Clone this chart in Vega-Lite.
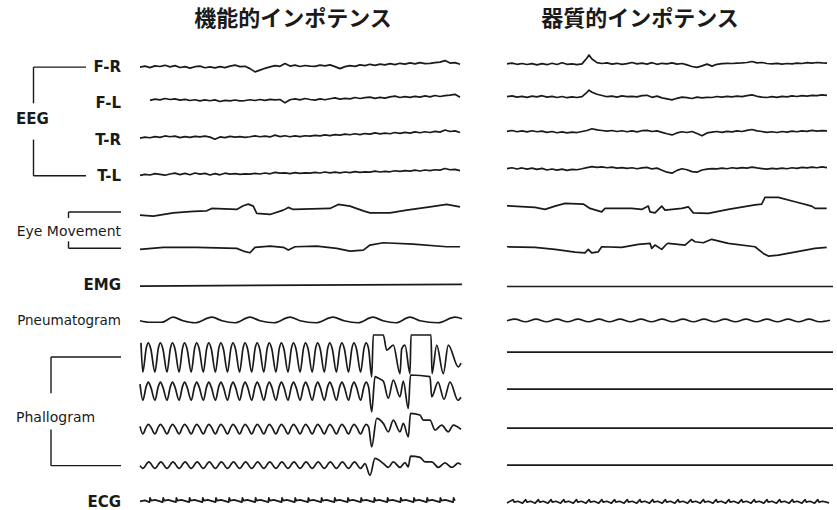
{
"$schema":"https://vega.github.io/schema/vega-lite/v6.json",
"background":"white",
"padding":{"left":0,"top":8,"right":0,"bottom":0},
"bounds":"flush",
"spacing":45,
"config":{"view":{"stroke":null},"title":{"font":"Noto Sans CJK JP","fontSize":22,"fontWeight":"bold","color":"#1a1a1a","offset":18}},
"datasets":{
"labels":[
{"text":"F-R","channel":"F-R","anchor":"label"},
{"text":"F-L","channel":"F-L","anchor":"label"},
{"text":"T-R","channel":"T-R","anchor":"label"},
{"text":"T-L","channel":"T-L","anchor":"label"},
{"text":"Eye Movement","channel":"Eye1","anchor":"label"},
{"text":"EMG","channel":"EMG","anchor":"label"},
{"text":"Pneumatogram","channel":"Pneumatogram","anchor":"label"},
{"text":"ECG","channel":"ECG","anchor":"label"},
{"text":"EEG","channel":"F-L","anchor":"group"},
{"text":"Phallogram","channel":"Ph2","anchor":"group"}
],
"brackets":[
{"group":"EEG","part":"line","from":"eegBar","to":"eegBar","top":"F-R","bottom":"F-L"},
{"group":"EEG","part":"line","from":"eegBar","to":"eegBar","top":"T-R","bottom":"T-L"},
{"group":"EEG","part":"line","from":"eegBar","to":"eegEnd","top":"F-R","bottom":"F-R"},
{"group":"EEG","part":"line","from":"eegBar","to":"eegEnd","top":"T-L","bottom":"T-L"},
{"group":"Eye Movement","part":"line","from":"eyeBar","to":"label","top":"Eye1","bottom":"Eye1"},
{"group":"Eye Movement","part":"line","from":"eyeBar","to":"label","top":"Eye2","bottom":"Eye2"},
{"group":"Eye Movement","part":"tickDown","from":"eyeBar","to":"eyeBar","top":"Eye1","bottom":"Eye1"},
{"group":"Eye Movement","part":"tickUp","from":"eyeBar","to":"eyeBar","top":"Eye2","bottom":"Eye2"},
{"group":"Phallogram","part":"line","from":"phBar","to":"phBar","top":"Ph1","bottom":"Ph2"},
{"group":"Phallogram","part":"line","from":"phBar","to":"phBar","top":"Ph3","bottom":"Ph4"},
{"group":"Phallogram","part":"line","from":"phBar","to":"label","top":"Ph1","bottom":"Ph1"},
{"group":"Phallogram","part":"line","from":"phBar","to":"label","top":"Ph4","bottom":"Ph4"}
],
"functional":[
{"c":"F-R","t":0,"v":0},{"c":"F-R","t":0.5,"v":1},{"c":"F-R","t":1,"v":-0.5},{"c":"F-R","t":1.5,"v":1.2},{"c":"F-R","t":2,"v":0.6},{"c":"F-R","t":2.5,"v":1.8},{"c":"F-R","t":3,"v":0.3},{"c":"F-R","t":3.5,"v":1.5},{"c":"F-R","t":4,"v":-0.4},{"c":"F-R","t":4.5,"v":0.5},{"c":"F-R","t":5,"v":-1},{"c":"F-R","t":5.5,"v":0.4},{"c":"F-R","t":6,"v":1},{"c":"F-R","t":6.5,"v":-0.6},{"c":"F-R","t":7,"v":0.3},{"c":"F-R","t":7.5,"v":-0.8},{"c":"F-R","t":8,"v":0.5},{"c":"F-R","t":8.5,"v":-0.5},{"c":"F-R","t":9,"v":1},{"c":"F-R","t":9.5,"v":2},{"c":"F-R","t":10,"v":0.5},{"c":"F-R","t":10.5,"v":0.8},{"c":"F-R","t":11,"v":-1.5},{"c":"F-R","t":11.5,"v":-4.7},{"c":"F-R","t":12,"v":-3},{"c":"F-R","t":12.5,"v":-1.2},{"c":"F-R","t":13,"v":0.3},{"c":"F-R","t":13.5,"v":1.5},{"c":"F-R","t":14,"v":0.8},{"c":"F-R","t":14.5,"v":3.5},{"c":"F-R","t":15,"v":1},{"c":"F-R","t":15.5,"v":2},{"c":"F-R","t":16,"v":0.6},{"c":"F-R","t":16.5,"v":1.6},{"c":"F-R","t":17,"v":1},{"c":"F-R","t":17.5,"v":0.8},{"c":"F-R","t":18,"v":2},{"c":"F-R","t":18.5,"v":1.2},{"c":"F-R","t":19,"v":2.2},{"c":"F-R","t":19.5,"v":0.5},{"c":"F-R","t":20,"v":-1.5},{"c":"F-R","t":20.5,"v":0.5},{"c":"F-R","t":21,"v":1.5},{"c":"F-R","t":21.5,"v":0.8},{"c":"F-R","t":22,"v":2.2},{"c":"F-R","t":22.5,"v":1.5},{"c":"F-R","t":23,"v":2.8},{"c":"F-R","t":23.5,"v":1.8},{"c":"F-R","t":24,"v":3},{"c":"F-R","t":24.5,"v":2.2},{"c":"F-R","t":25,"v":3.5},{"c":"F-R","t":25.5,"v":2.5},{"c":"F-R","t":26,"v":3.8},{"c":"F-R","t":26.5,"v":3},{"c":"F-R","t":27,"v":4.2},{"c":"F-R","t":27.5,"v":3.2},{"c":"F-R","t":28,"v":4.5},{"c":"F-R","t":28.5,"v":3.5},{"c":"F-R","t":29,"v":3.8},{"c":"F-R","t":29.5,"v":4.5},{"c":"F-R","t":30,"v":5},{"c":"F-R","t":30.5,"v":6.5},{"c":"F-R","t":31,"v":4},{"c":"F-R","t":31.5,"v":4.5},{"c":"F-R","t":32,"v":2.8},
{"c":"F-L","t":1,"v":3},{"c":"F-L","t":1.5,"v":4.2},{"c":"F-L","t":2,"v":3.5},{"c":"F-L","t":2.5,"v":4.8},{"c":"F-L","t":3,"v":3.8},{"c":"F-L","t":3.5,"v":4.5},{"c":"F-L","t":4,"v":3.2},{"c":"F-L","t":4.5,"v":4},{"c":"F-L","t":5,"v":2.8},{"c":"F-L","t":5.5,"v":3.6},{"c":"F-L","t":6,"v":2.5},{"c":"F-L","t":6.5,"v":3.4},{"c":"F-L","t":7,"v":2.6},{"c":"F-L","t":7.5,"v":3.5},{"c":"F-L","t":8,"v":1.8},{"c":"F-L","t":8.5,"v":3},{"c":"F-L","t":9,"v":2.4},{"c":"F-L","t":9.5,"v":3.3},{"c":"F-L","t":10,"v":2.5},{"c":"F-L","t":10.5,"v":2.8},{"c":"F-L","t":11,"v":3.6},{"c":"F-L","t":11.5,"v":2.8},{"c":"F-L","t":12,"v":3.8},{"c":"F-L","t":12.5,"v":3},{"c":"F-L","t":13,"v":4},{"c":"F-L","t":13.5,"v":3.4},{"c":"F-L","t":14,"v":3.8},{"c":"F-L","t":14.5,"v":0.5},{"c":"F-L","t":15,"v":3.6},{"c":"F-L","t":15.5,"v":4.4},{"c":"F-L","t":16,"v":3.5},{"c":"F-L","t":16.5,"v":4.8},{"c":"F-L","t":17,"v":3.8},{"c":"F-L","t":17.5,"v":3.2},{"c":"F-L","t":18,"v":4.4},{"c":"F-L","t":18.5,"v":3.6},{"c":"F-L","t":19,"v":4.6},{"c":"F-L","t":19.5,"v":5.5},{"c":"F-L","t":20,"v":4.2},{"c":"F-L","t":20.5,"v":5},{"c":"F-L","t":21,"v":4.4},{"c":"F-L","t":21.5,"v":5.8},{"c":"F-L","t":22,"v":4.8},{"c":"F-L","t":22.5,"v":5.6},{"c":"F-L","t":23,"v":6.2},{"c":"F-L","t":23.5,"v":5},{"c":"F-L","t":24,"v":6},{"c":"F-L","t":24.5,"v":5.2},{"c":"F-L","t":25,"v":6.4},{"c":"F-L","t":25.5,"v":7.2},{"c":"F-L","t":26,"v":5.8},{"c":"F-L","t":26.5,"v":6.6},{"c":"F-L","t":27,"v":6},{"c":"F-L","t":27.5,"v":7},{"c":"F-L","t":28,"v":6.2},{"c":"F-L","t":28.5,"v":7.4},{"c":"F-L","t":29,"v":6.4},{"c":"F-L","t":29.5,"v":7.8},{"c":"F-L","t":30,"v":6.8},{"c":"F-L","t":30.5,"v":7.6},{"c":"F-L","t":31,"v":8.2},{"c":"F-L","t":31.5,"v":9},{"c":"F-L","t":32,"v":6},
{"c":"T-R","t":0,"v":1.5},{"c":"T-R","t":0.5,"v":2.5},{"c":"T-R","t":1,"v":1.8},{"c":"T-R","t":1.5,"v":3},{"c":"T-R","t":2,"v":2.2},{"c":"T-R","t":2.5,"v":3.6},{"c":"T-R","t":3,"v":2.8},{"c":"T-R","t":3.5,"v":3.4},{"c":"T-R","t":4,"v":2},{"c":"T-R","t":4.5,"v":3},{"c":"T-R","t":5,"v":2.2},{"c":"T-R","t":5.5,"v":3.2},{"c":"T-R","t":6,"v":2.6},{"c":"T-R","t":6.5,"v":3.4},{"c":"T-R","t":7,"v":2.4},{"c":"T-R","t":7.5,"v":0.4},{"c":"T-R","t":8,"v":2.6},{"c":"T-R","t":8.5,"v":2},{"c":"T-R","t":9,"v":3.2},{"c":"T-R","t":9.5,"v":2.4},{"c":"T-R","t":10,"v":3},{"c":"T-R","t":10.5,"v":2.2},{"c":"T-R","t":11,"v":2.8},{"c":"T-R","t":11.5,"v":3.6},{"c":"T-R","t":12,"v":2.8},{"c":"T-R","t":12.5,"v":3.4},{"c":"T-R","t":13,"v":2.6},{"c":"T-R","t":13.5,"v":4.4},{"c":"T-R","t":14,"v":3},{"c":"T-R","t":14.5,"v":3.8},{"c":"T-R","t":15,"v":2.8},{"c":"T-R","t":15.5,"v":3.6},{"c":"T-R","t":16,"v":3},{"c":"T-R","t":16.5,"v":3.8},{"c":"T-R","t":17,"v":3.4},{"c":"T-R","t":17.5,"v":4.2},{"c":"T-R","t":18,"v":3.6},{"c":"T-R","t":18.5,"v":4.6},{"c":"T-R","t":19,"v":4},{"c":"T-R","t":19.5,"v":5},{"c":"T-R","t":20,"v":4.4},{"c":"T-R","t":20.5,"v":5.4},{"c":"T-R","t":21,"v":4.8},{"c":"T-R","t":21.5,"v":5.8},{"c":"T-R","t":22,"v":5},{"c":"T-R","t":22.5,"v":6},{"c":"T-R","t":23,"v":5.4},{"c":"T-R","t":23.5,"v":6.6},{"c":"T-R","t":24,"v":5.6},{"c":"T-R","t":24.5,"v":6.4},{"c":"T-R","t":25,"v":5.8},{"c":"T-R","t":25.5,"v":7},{"c":"T-R","t":26,"v":6.2},{"c":"T-R","t":26.5,"v":7.2},{"c":"T-R","t":27,"v":6.4},{"c":"T-R","t":27.5,"v":7.6},{"c":"T-R","t":28,"v":6.8},{"c":"T-R","t":28.5,"v":7.8},{"c":"T-R","t":29,"v":7},{"c":"T-R","t":29.5,"v":8.2},{"c":"T-R","t":30,"v":7.4},{"c":"T-R","t":30.5,"v":9.5},{"c":"T-R","t":31,"v":8},{"c":"T-R","t":31.5,"v":8.6},{"c":"T-R","t":32,"v":7},
{"c":"T-L","t":0,"v":0.5},{"c":"T-L","t":0.5,"v":1.5},{"c":"T-L","t":1,"v":0.8},{"c":"T-L","t":1.5,"v":2.2},{"c":"T-L","t":2,"v":1.4},{"c":"T-L","t":2.5,"v":0.6},{"c":"T-L","t":3,"v":1.8},{"c":"T-L","t":3.5,"v":2.6},{"c":"T-L","t":4,"v":1.2},{"c":"T-L","t":4.5,"v":2.4},{"c":"T-L","t":5,"v":1},{"c":"T-L","t":5.5,"v":2.8},{"c":"T-L","t":6,"v":1.6},{"c":"T-L","t":6.5,"v":2.4},{"c":"T-L","t":7,"v":0.8},{"c":"T-L","t":7.5,"v":2.2},{"c":"T-L","t":8,"v":1},{"c":"T-L","t":8.5,"v":2.6},{"c":"T-L","t":9,"v":1.6},{"c":"T-L","t":9.5,"v":2.2},{"c":"T-L","t":10,"v":1.4},{"c":"T-L","t":10.5,"v":2},{"c":"T-L","t":11,"v":1.6},{"c":"T-L","t":11.5,"v":2.4},{"c":"T-L","t":12,"v":1.8},{"c":"T-L","t":12.5,"v":2.8},{"c":"T-L","t":13,"v":2},{"c":"T-L","t":13.5,"v":3.4},{"c":"T-L","t":14,"v":2.6},{"c":"T-L","t":14.5,"v":3},{"c":"T-L","t":15,"v":2.2},{"c":"T-L","t":15.5,"v":3.2},{"c":"T-L","t":16,"v":2.4},{"c":"T-L","t":16.5,"v":3},{"c":"T-L","t":17,"v":2.6},{"c":"T-L","t":17.5,"v":3.4},{"c":"T-L","t":18,"v":2.8},{"c":"T-L","t":18.5,"v":3.8},{"c":"T-L","t":19,"v":3},{"c":"T-L","t":19.5,"v":3.6},{"c":"T-L","t":20,"v":3},{"c":"T-L","t":20.5,"v":3.8},{"c":"T-L","t":21,"v":3.2},{"c":"T-L","t":21.5,"v":4.2},{"c":"T-L","t":22,"v":3.4},{"c":"T-L","t":22.5,"v":4},{"c":"T-L","t":23,"v":3.6},{"c":"T-L","t":23.5,"v":4.6},{"c":"T-L","t":24,"v":3.8},{"c":"T-L","t":24.5,"v":4.4},{"c":"T-L","t":25,"v":4},{"c":"T-L","t":25.5,"v":5},{"c":"T-L","t":26,"v":4.4},{"c":"T-L","t":26.5,"v":5.2},{"c":"T-L","t":27,"v":4.6},{"c":"T-L","t":27.5,"v":5.6},{"c":"T-L","t":28,"v":4.8},{"c":"T-L","t":28.5,"v":5.8},{"c":"T-L","t":29,"v":5.2},{"c":"T-L","t":29.5,"v":6},{"c":"T-L","t":30,"v":5.6},{"c":"T-L","t":30.5,"v":7.3},{"c":"T-L","t":31,"v":6},{"c":"T-L","t":31.5,"v":6.4},{"c":"T-L","t":32,"v":5.2},
{"c":"Eye1","t":0,"v":-3.1},{"c":"Eye1","t":1.33,"v":-4.1},{"c":"Eye1","t":3.33,"v":-0.8},{"c":"Eye1","t":5.33,"v":0.6},{"c":"Eye1","t":6.67,"v":1.2},{"c":"Eye1","t":7.17,"v":3.6},{"c":"Eye1","t":9.67,"v":2.6},{"c":"Eye1","t":10.33,"v":6.2},{"c":"Eye1","t":10.83,"v":7.9},{"c":"Eye1","t":11.33,"v":5.9},{"c":"Eye1","t":11.67,"v":-1.4},{"c":"Eye1","t":13,"v":-2.4},{"c":"Eye1","t":14.33,"v":1.9},{"c":"Eye1","t":14.83,"v":4.6},{"c":"Eye1","t":15.33,"v":2.6},{"c":"Eye1","t":19,"v":3.6},{"c":"Eye1","t":19.83,"v":7.6},{"c":"Eye1","t":21,"v":5.9},{"c":"Eye1","t":22.33,"v":1.2},{"c":"Eye1","t":23,"v":-0.8},{"c":"Eye1","t":25,"v":-0.8},{"c":"Eye1","t":26.67,"v":1.9},{"c":"Eye1","t":29,"v":5.2},{"c":"Eye1","t":30.67,"v":7.6},{"c":"Eye1","t":32,"v":5.2},
{"c":"Eye2","t":0,"v":-1.1},{"c":"Eye2","t":2.33,"v":0.9},{"c":"Eye2","t":5.67,"v":0.9},{"c":"Eye2","t":9.67,"v":-0.1},{"c":"Eye2","t":10.33,"v":-2.8},{"c":"Eye2","t":11,"v":-4.5},{"c":"Eye2","t":11.5,"v":0.9},{"c":"Eye2","t":13,"v":2.2},{"c":"Eye2","t":14.33,"v":0.9},{"c":"Eye2","t":14.83,"v":-1.8},{"c":"Eye2","t":15.5,"v":1.5},{"c":"Eye2","t":17.67,"v":2.2},{"c":"Eye2","t":19.67,"v":-0.1},{"c":"Eye2","t":21,"v":-2.8},{"c":"Eye2","t":22.33,"v":-1.8},{"c":"Eye2","t":23,"v":3.2},{"c":"Eye2","t":24.33,"v":5.5},{"c":"Eye2","t":27.33,"v":4.2},{"c":"Eye2","t":30.67,"v":1.5},{"c":"Eye2","t":32,"v":1.5},
{"c":"EMG","t":0,"v":-1.6},{"c":"EMG","t":32.2,"v":0.2},
{"c":"Pneumatogram","t":0,"v":0},{"c":"Pneumatogram","t":1,"v":-1.5},{"c":"Pneumatogram","t":2.2,"v":-1.5},{"c":"Pneumatogram","t":3.3,"v":3.5},{"c":"Pneumatogram","t":4.3,"v":0},{"c":"Pneumatogram","t":5.5,"v":-2},{"c":"Pneumatogram","t":7.2,"v":3.5},{"c":"Pneumatogram","t":8.2,"v":0},{"c":"Pneumatogram","t":9.5,"v":-2},{"c":"Pneumatogram","t":11,"v":3.5},{"c":"Pneumatogram","t":12,"v":0},{"c":"Pneumatogram","t":13.4,"v":-2},{"c":"Pneumatogram","t":15,"v":3.5},{"c":"Pneumatogram","t":16,"v":0},{"c":"Pneumatogram","t":17.6,"v":-2},{"c":"Pneumatogram","t":19.3,"v":3.5},{"c":"Pneumatogram","t":20.4,"v":0},{"c":"Pneumatogram","t":21.8,"v":-2},{"c":"Pneumatogram","t":23.3,"v":3.5},{"c":"Pneumatogram","t":24.3,"v":0},{"c":"Pneumatogram","t":25.6,"v":-2},{"c":"Pneumatogram","t":27,"v":3.5},{"c":"Pneumatogram","t":28,"v":0},{"c":"Pneumatogram","t":29.8,"v":-2},{"c":"Pneumatogram","t":31.5,"v":3.5},{"c":"Pneumatogram","t":32.2,"v":2},
{"c":"Ph1","t":0.1,"v":14},{"c":"Ph1","t":0.28,"v":-15},{"c":"Ph1","t":0.63,"v":9},{"c":"Ph1","t":0.83,"v":14},{"c":"Ph1","t":1.08,"v":8},{"c":"Ph1","t":1.49,"v":-15},{"c":"Ph1","t":1.84,"v":9},{"c":"Ph1","t":2.04,"v":14},{"c":"Ph1","t":2.29,"v":8},{"c":"Ph1","t":2.7,"v":-15},{"c":"Ph1","t":3.05,"v":9},{"c":"Ph1","t":3.25,"v":14},{"c":"Ph1","t":3.5,"v":8},{"c":"Ph1","t":3.91,"v":-15},{"c":"Ph1","t":4.26,"v":9},{"c":"Ph1","t":4.46,"v":14},{"c":"Ph1","t":4.71,"v":8},{"c":"Ph1","t":5.12,"v":-15},{"c":"Ph1","t":5.47,"v":9},{"c":"Ph1","t":5.67,"v":14},{"c":"Ph1","t":5.92,"v":8},{"c":"Ph1","t":6.33,"v":-15},{"c":"Ph1","t":6.68,"v":9},{"c":"Ph1","t":6.88,"v":14},{"c":"Ph1","t":7.13,"v":8},{"c":"Ph1","t":7.54,"v":-15},{"c":"Ph1","t":7.89,"v":9},{"c":"Ph1","t":8.09,"v":14},{"c":"Ph1","t":8.34,"v":8},{"c":"Ph1","t":8.75,"v":-15},{"c":"Ph1","t":9.1,"v":9},{"c":"Ph1","t":9.3,"v":14},{"c":"Ph1","t":9.55,"v":8},{"c":"Ph1","t":9.96,"v":-15},{"c":"Ph1","t":10.31,"v":9},{"c":"Ph1","t":10.51,"v":14},{"c":"Ph1","t":10.76,"v":8},{"c":"Ph1","t":11.17,"v":-15},{"c":"Ph1","t":11.52,"v":9},{"c":"Ph1","t":11.72,"v":14},{"c":"Ph1","t":11.97,"v":8},{"c":"Ph1","t":12.38,"v":-15},{"c":"Ph1","t":12.73,"v":9},{"c":"Ph1","t":12.93,"v":14},{"c":"Ph1","t":13.18,"v":8},{"c":"Ph1","t":13.59,"v":-15},{"c":"Ph1","t":13.94,"v":9},{"c":"Ph1","t":14.14,"v":14},{"c":"Ph1","t":14.39,"v":8},{"c":"Ph1","t":14.8,"v":-15},{"c":"Ph1","t":15.15,"v":9},{"c":"Ph1","t":15.35,"v":14},{"c":"Ph1","t":15.6,"v":8},{"c":"Ph1","t":16.01,"v":-15},{"c":"Ph1","t":16.36,"v":9},{"c":"Ph1","t":16.56,"v":14},{"c":"Ph1","t":16.81,"v":8},{"c":"Ph1","t":17.22,"v":-15},{"c":"Ph1","t":17.57,"v":9},{"c":"Ph1","t":17.77,"v":14},{"c":"Ph1","t":18.02,"v":8},{"c":"Ph1","t":18.43,"v":-15},{"c":"Ph1","t":18.78,"v":9},{"c":"Ph1","t":18.98,"v":14},{"c":"Ph1","t":19.23,"v":8},{"c":"Ph1","t":19.64,"v":-15},{"c":"Ph1","t":19.99,"v":9},{"c":"Ph1","t":20.19,"v":14},{"c":"Ph1","t":20.44,"v":8},{"c":"Ph1","t":20.85,"v":-15},{"c":"Ph1","t":21.2,"v":9},{"c":"Ph1","t":21.4,"v":14},{"c":"Ph1","t":21.65,"v":8},{"c":"Ph1","t":22.06,"v":-15},{"c":"Ph1","t":22.41,"v":9},{"c":"Ph1","t":22.61,"v":14},{"c":"Ph1","t":22.86,"v":8},{"c":"Ph1","t":23.17,"v":-19.9},{"c":"Ph1","t":23.33,"v":21.8},{"c":"Ph1","t":24.33,"v":21.8},{"c":"Ph1","t":24.67,"v":6.8},{"c":"Ph1","t":25.33,"v":11.8},{"c":"Ph1","t":26,"v":-16.5},{"c":"Ph1","t":26.17,"v":8},{"c":"Ph1","t":26.5,"v":11.8},{"c":"Ph1","t":27,"v":-16.5},{"c":"Ph1","t":27.1,"v":21.8},{"c":"Ph1","t":29.1,"v":21.8},{"c":"Ph1","t":29.2,"v":-16.5},{"c":"Ph1","t":29.67,"v":11.8},{"c":"Ph1","t":30.33,"v":-16.5},{"c":"Ph1","t":30.83,"v":11.8},{"c":"Ph1","t":31.83,"v":-9.9},{"c":"Ph1","t":32.1,"v":-6},
{"c":"Ph2","t":0,"v":9},{"c":"Ph2","t":0.28,"v":-7},{"c":"Ph2","t":0.63,"v":7},{"c":"Ph2","t":0.83,"v":11},{"c":"Ph2","t":1.08,"v":6},{"c":"Ph2","t":1.49,"v":-7},{"c":"Ph2","t":1.84,"v":7},{"c":"Ph2","t":2.04,"v":11},{"c":"Ph2","t":2.29,"v":6},{"c":"Ph2","t":2.7,"v":-7},{"c":"Ph2","t":3.05,"v":7},{"c":"Ph2","t":3.25,"v":11},{"c":"Ph2","t":3.5,"v":6},{"c":"Ph2","t":3.91,"v":-7},{"c":"Ph2","t":4.26,"v":7},{"c":"Ph2","t":4.46,"v":11},{"c":"Ph2","t":4.71,"v":6},{"c":"Ph2","t":5.12,"v":-7},{"c":"Ph2","t":5.47,"v":7},{"c":"Ph2","t":5.67,"v":11},{"c":"Ph2","t":5.92,"v":6},{"c":"Ph2","t":6.33,"v":-7},{"c":"Ph2","t":6.68,"v":7},{"c":"Ph2","t":6.88,"v":11},{"c":"Ph2","t":7.13,"v":6},{"c":"Ph2","t":7.54,"v":-7},{"c":"Ph2","t":7.89,"v":7},{"c":"Ph2","t":8.09,"v":11},{"c":"Ph2","t":8.34,"v":6},{"c":"Ph2","t":8.75,"v":-7},{"c":"Ph2","t":9.1,"v":7},{"c":"Ph2","t":9.3,"v":11},{"c":"Ph2","t":9.55,"v":6},{"c":"Ph2","t":9.96,"v":-7},{"c":"Ph2","t":10.31,"v":7},{"c":"Ph2","t":10.51,"v":11},{"c":"Ph2","t":10.76,"v":6},{"c":"Ph2","t":11.17,"v":-7},{"c":"Ph2","t":11.52,"v":7},{"c":"Ph2","t":11.72,"v":11},{"c":"Ph2","t":11.97,"v":6},{"c":"Ph2","t":12.38,"v":-7},{"c":"Ph2","t":12.73,"v":7},{"c":"Ph2","t":12.93,"v":11},{"c":"Ph2","t":13.18,"v":6},{"c":"Ph2","t":13.59,"v":-7},{"c":"Ph2","t":13.94,"v":7},{"c":"Ph2","t":14.14,"v":11},{"c":"Ph2","t":14.39,"v":6},{"c":"Ph2","t":14.8,"v":-7},{"c":"Ph2","t":15.15,"v":7},{"c":"Ph2","t":15.35,"v":11},{"c":"Ph2","t":15.6,"v":6},{"c":"Ph2","t":16.01,"v":-7},{"c":"Ph2","t":16.36,"v":7},{"c":"Ph2","t":16.56,"v":11},{"c":"Ph2","t":16.81,"v":6},{"c":"Ph2","t":17.22,"v":-7},{"c":"Ph2","t":17.57,"v":7},{"c":"Ph2","t":17.77,"v":11},{"c":"Ph2","t":18.02,"v":6},{"c":"Ph2","t":18.43,"v":-7},{"c":"Ph2","t":18.78,"v":7},{"c":"Ph2","t":18.98,"v":11},{"c":"Ph2","t":19.23,"v":6},{"c":"Ph2","t":19.64,"v":-7},{"c":"Ph2","t":19.99,"v":7},{"c":"Ph2","t":20.19,"v":11},{"c":"Ph2","t":20.44,"v":6},{"c":"Ph2","t":20.85,"v":-7},{"c":"Ph2","t":21.2,"v":7},{"c":"Ph2","t":21.4,"v":11},{"c":"Ph2","t":21.65,"v":6},{"c":"Ph2","t":22.06,"v":-7},{"c":"Ph2","t":22.41,"v":7},{"c":"Ph2","t":22.61,"v":11},{"c":"Ph2","t":22.86,"v":6},{"c":"Ph2","t":23.17,"v":-18.6},{"c":"Ph2","t":23.5,"v":16.4},{"c":"Ph2","t":23.8,"v":15},{"c":"Ph2","t":24.33,"v":12},{"c":"Ph2","t":24.83,"v":-5},{"c":"Ph2","t":25.33,"v":13},{"c":"Ph2","t":26,"v":-3.6},{"c":"Ph2","t":26.33,"v":12},{"c":"Ph2","t":26.83,"v":-15.2},{"c":"Ph2","t":27.05,"v":18.1},{"c":"Ph2","t":29,"v":16.4},{"c":"Ph2","t":29.17,"v":-3.6},{"c":"Ph2","t":29.8,"v":11},{"c":"Ph2","t":30.4,"v":-6},{"c":"Ph2","t":31,"v":11},{"c":"Ph2","t":31.8,"v":-7},{"c":"Ph2","t":32.1,"v":-4},
{"c":"Ph3","t":0,"v":3},{"c":"Ph3","t":0.28,"v":-4.5},{"c":"Ph3","t":0.63,"v":2.5},{"c":"Ph3","t":0.83,"v":5},{"c":"Ph3","t":1.08,"v":2.5},{"c":"Ph3","t":1.49,"v":-4.5},{"c":"Ph3","t":1.84,"v":2.5},{"c":"Ph3","t":2.04,"v":5},{"c":"Ph3","t":2.29,"v":2.5},{"c":"Ph3","t":2.7,"v":-4.5},{"c":"Ph3","t":3.05,"v":2.5},{"c":"Ph3","t":3.25,"v":5},{"c":"Ph3","t":3.5,"v":2.5},{"c":"Ph3","t":3.91,"v":-4.5},{"c":"Ph3","t":4.26,"v":2.5},{"c":"Ph3","t":4.46,"v":5},{"c":"Ph3","t":4.71,"v":2.5},{"c":"Ph3","t":5.12,"v":-4.5},{"c":"Ph3","t":5.47,"v":2.5},{"c":"Ph3","t":5.67,"v":5},{"c":"Ph3","t":5.92,"v":2.5},{"c":"Ph3","t":6.33,"v":-4.5},{"c":"Ph3","t":6.68,"v":2.5},{"c":"Ph3","t":6.88,"v":5},{"c":"Ph3","t":7.13,"v":2.5},{"c":"Ph3","t":7.54,"v":-4.5},{"c":"Ph3","t":7.89,"v":2.5},{"c":"Ph3","t":8.09,"v":5},{"c":"Ph3","t":8.34,"v":2.5},{"c":"Ph3","t":8.75,"v":-4.5},{"c":"Ph3","t":9.1,"v":2.5},{"c":"Ph3","t":9.3,"v":5},{"c":"Ph3","t":9.55,"v":2.5},{"c":"Ph3","t":9.96,"v":-4.5},{"c":"Ph3","t":10.31,"v":2.5},{"c":"Ph3","t":10.51,"v":5},{"c":"Ph3","t":10.76,"v":2.5},{"c":"Ph3","t":11.17,"v":-4.5},{"c":"Ph3","t":11.52,"v":2.5},{"c":"Ph3","t":11.72,"v":5},{"c":"Ph3","t":11.97,"v":2.5},{"c":"Ph3","t":12.38,"v":-4.5},{"c":"Ph3","t":12.73,"v":2.5},{"c":"Ph3","t":12.93,"v":5},{"c":"Ph3","t":13.18,"v":2.5},{"c":"Ph3","t":13.59,"v":-4.5},{"c":"Ph3","t":13.94,"v":2.5},{"c":"Ph3","t":14.14,"v":5},{"c":"Ph3","t":14.39,"v":2.5},{"c":"Ph3","t":14.8,"v":-4.5},{"c":"Ph3","t":15.15,"v":2.5},{"c":"Ph3","t":15.35,"v":5},{"c":"Ph3","t":15.6,"v":2.5},{"c":"Ph3","t":16.01,"v":-4.5},{"c":"Ph3","t":16.36,"v":2.5},{"c":"Ph3","t":16.56,"v":5},{"c":"Ph3","t":16.81,"v":2.5},{"c":"Ph3","t":17.22,"v":-4.5},{"c":"Ph3","t":17.57,"v":2.5},{"c":"Ph3","t":17.77,"v":5},{"c":"Ph3","t":18.02,"v":2.5},{"c":"Ph3","t":18.43,"v":-4.5},{"c":"Ph3","t":18.78,"v":2.5},{"c":"Ph3","t":18.98,"v":5},{"c":"Ph3","t":19.23,"v":2.5},{"c":"Ph3","t":19.64,"v":-4.5},{"c":"Ph3","t":19.99,"v":2.5},{"c":"Ph3","t":20.19,"v":5},{"c":"Ph3","t":20.44,"v":2.5},{"c":"Ph3","t":20.85,"v":-4.5},{"c":"Ph3","t":21.2,"v":2.5},{"c":"Ph3","t":21.4,"v":5},{"c":"Ph3","t":21.65,"v":2.5},{"c":"Ph3","t":22.06,"v":-4.5},{"c":"Ph3","t":22.41,"v":2.5},{"c":"Ph3","t":22.61,"v":5},{"c":"Ph3","t":22.86,"v":2.5},{"c":"Ph3","t":23.17,"v":-17.4},{"c":"Ph3","t":23.67,"v":11},{"c":"Ph3","t":24.33,"v":6},{"c":"Ph3","t":24.83,"v":-2.4},{"c":"Ph3","t":25.33,"v":9.3},{"c":"Ph3","t":26,"v":-2.4},{"c":"Ph3","t":26.33,"v":6},{"c":"Ph3","t":26.83,"v":-7.4},{"c":"Ph3","t":27.05,"v":16},{"c":"Ph3","t":28,"v":14.3},{"c":"Ph3","t":28.33,"v":9.3},{"c":"Ph3","t":29,"v":9.3},{"c":"Ph3","t":29.5,"v":-0.7},{"c":"Ph3","t":30.17,"v":4.3},{"c":"Ph3","t":30.83,"v":-2.4},{"c":"Ph3","t":31.33,"v":4.3},{"c":"Ph3","t":32.1,"v":0},
{"c":"Ph4","t":0,"v":0},{"c":"Ph4","t":0.28,"v":-2.8},{"c":"Ph4","t":0.88,"v":3.8},{"c":"Ph4","t":1.49,"v":-2.8},{"c":"Ph4","t":2.09,"v":3.8},{"c":"Ph4","t":2.7,"v":-2.8},{"c":"Ph4","t":3.3,"v":3.8},{"c":"Ph4","t":3.91,"v":-2.8},{"c":"Ph4","t":4.51,"v":3.8},{"c":"Ph4","t":5.12,"v":-2.8},{"c":"Ph4","t":5.72,"v":3.8},{"c":"Ph4","t":6.33,"v":-2.8},{"c":"Ph4","t":6.93,"v":3.8},{"c":"Ph4","t":7.54,"v":-2.8},{"c":"Ph4","t":8.14,"v":3.8},{"c":"Ph4","t":8.75,"v":-2.8},{"c":"Ph4","t":9.35,"v":3.8},{"c":"Ph4","t":9.96,"v":-2.8},{"c":"Ph4","t":10.56,"v":3.8},{"c":"Ph4","t":11.17,"v":-2.8},{"c":"Ph4","t":11.77,"v":3.8},{"c":"Ph4","t":12.38,"v":-2.8},{"c":"Ph4","t":12.98,"v":3.8},{"c":"Ph4","t":13.59,"v":-2.8},{"c":"Ph4","t":14.19,"v":3.8},{"c":"Ph4","t":14.8,"v":-2.8},{"c":"Ph4","t":15.4,"v":3.8},{"c":"Ph4","t":16.01,"v":-2.8},{"c":"Ph4","t":16.61,"v":3.8},{"c":"Ph4","t":17.22,"v":-2.8},{"c":"Ph4","t":17.82,"v":3.8},{"c":"Ph4","t":18.43,"v":-2.8},{"c":"Ph4","t":19.03,"v":3.8},{"c":"Ph4","t":19.64,"v":-2.8},{"c":"Ph4","t":20.24,"v":3.8},{"c":"Ph4","t":20.85,"v":-2.8},{"c":"Ph4","t":21.45,"v":3.8},{"c":"Ph4","t":22.06,"v":-2.8},{"c":"Ph4","t":22.5,"v":2},{"c":"Ph4","t":23,"v":-9.5},{"c":"Ph4","t":23.5,"v":7.2},{"c":"Ph4","t":24.33,"v":2.2},{"c":"Ph4","t":24.83,"v":-1.8},{"c":"Ph4","t":25.33,"v":3.8},{"c":"Ph4","t":26,"v":-1.8},{"c":"Ph4","t":26.5,"v":3},{"c":"Ph4","t":26.83,"v":-1.2},{"c":"Ph4","t":27.05,"v":9.5},{"c":"Ph4","t":28,"v":8.2},{"c":"Ph4","t":28.5,"v":3.8},{"c":"Ph4","t":29.17,"v":3.8},{"c":"Ph4","t":29.83,"v":-1.8},{"c":"Ph4","t":30.5,"v":2.8},{"c":"Ph4","t":31.17,"v":-1.8},{"c":"Ph4","t":31.83,"v":2.5},{"c":"Ph4","t":32.1,"v":1},
{"c":"ECG","t":0,"v":0.5},{"c":"ECG","t":0.5,"v":1.5},{"c":"ECG","t":0.95,"v":-0.3},
{"c":"ECG","t":1,"v":4},{"c":"ECG","t":1.12,"v":1.2},{"c":"ECG","t":1.5,"v":2},{"c":"ECG","t":2.27,"v":-0.3},
{"c":"ECG","t":2.32,"v":4},{"c":"ECG","t":2.44,"v":1.2},{"c":"ECG","t":2.82,"v":2},{"c":"ECG","t":3.59,"v":-0.3},
{"c":"ECG","t":3.64,"v":4},{"c":"ECG","t":3.76,"v":1.2},{"c":"ECG","t":4.14,"v":2},{"c":"ECG","t":4.91,"v":-0.3},
{"c":"ECG","t":4.96,"v":4},{"c":"ECG","t":5.08,"v":1.2},{"c":"ECG","t":5.46,"v":2},{"c":"ECG","t":6.23,"v":-0.3},
{"c":"ECG","t":6.28,"v":4},{"c":"ECG","t":6.4,"v":1.2},{"c":"ECG","t":6.78,"v":2},{"c":"ECG","t":7.55,"v":-0.3},
{"c":"ECG","t":7.6,"v":4},{"c":"ECG","t":7.72,"v":1.2},{"c":"ECG","t":8.1,"v":2},{"c":"ECG","t":8.87,"v":-0.3},
{"c":"ECG","t":8.92,"v":4},{"c":"ECG","t":9.04,"v":1.2},{"c":"ECG","t":9.42,"v":2},{"c":"ECG","t":10.19,"v":-0.3},
{"c":"ECG","t":10.24,"v":4},{"c":"ECG","t":10.36,"v":1.2},{"c":"ECG","t":10.74,"v":2},{"c":"ECG","t":11.51,"v":-0.3},
{"c":"ECG","t":11.56,"v":4},{"c":"ECG","t":11.68,"v":1.2},{"c":"ECG","t":12.06,"v":2},{"c":"ECG","t":12.83,"v":-0.3},
{"c":"ECG","t":12.88,"v":4},{"c":"ECG","t":13,"v":1.2},{"c":"ECG","t":13.38,"v":2},{"c":"ECG","t":14.15,"v":-0.3},
{"c":"ECG","t":14.2,"v":4},{"c":"ECG","t":14.32,"v":1.2},{"c":"ECG","t":14.7,"v":2},{"c":"ECG","t":15.47,"v":-0.3},
{"c":"ECG","t":15.52,"v":4},{"c":"ECG","t":15.64,"v":1.2},{"c":"ECG","t":16.02,"v":2},{"c":"ECG","t":16.79,"v":-0.3},
{"c":"ECG","t":16.84,"v":4},{"c":"ECG","t":16.96,"v":1.2},{"c":"ECG","t":17.34,"v":2},{"c":"ECG","t":18.11,"v":-0.3},
{"c":"ECG","t":18.16,"v":4},{"c":"ECG","t":18.28,"v":1.2},{"c":"ECG","t":18.66,"v":2},{"c":"ECG","t":19.43,"v":-0.3},
{"c":"ECG","t":19.48,"v":4},{"c":"ECG","t":19.6,"v":1.2},{"c":"ECG","t":19.98,"v":2},{"c":"ECG","t":20.75,"v":-0.3},
{"c":"ECG","t":20.8,"v":4},{"c":"ECG","t":20.92,"v":1.2},{"c":"ECG","t":21.3,"v":2},{"c":"ECG","t":22.07,"v":-0.3},
{"c":"ECG","t":22.12,"v":4},{"c":"ECG","t":22.24,"v":1.2},{"c":"ECG","t":22.62,"v":2},{"c":"ECG","t":23.39,"v":-0.3},
{"c":"ECG","t":23.44,"v":4},{"c":"ECG","t":23.56,"v":1.2},{"c":"ECG","t":23.94,"v":2},{"c":"ECG","t":24.71,"v":-0.3},
{"c":"ECG","t":24.76,"v":4},{"c":"ECG","t":24.88,"v":1.2},{"c":"ECG","t":25.26,"v":2},{"c":"ECG","t":26.03,"v":-0.3},
{"c":"ECG","t":26.08,"v":4},{"c":"ECG","t":26.2,"v":1.2},{"c":"ECG","t":26.58,"v":2},{"c":"ECG","t":27.35,"v":-0.3},
{"c":"ECG","t":27.4,"v":4},{"c":"ECG","t":27.52,"v":1.2},{"c":"ECG","t":27.9,"v":2},{"c":"ECG","t":28.67,"v":-0.3},
{"c":"ECG","t":28.72,"v":4},{"c":"ECG","t":28.84,"v":1.2},{"c":"ECG","t":29.22,"v":2},{"c":"ECG","t":29.99,"v":-0.3},
{"c":"ECG","t":30.04,"v":4},{"c":"ECG","t":30.16,"v":1.2},{"c":"ECG","t":30.54,"v":2},{"c":"ECG","t":31.31,"v":-0.3},
{"c":"ECG","t":31.36,"v":4},{"c":"ECG","t":31.5,"v":1.2}
],
"organic":[
{"c":"F-R","t":0,"v":3.2},{"c":"F-R","t":0.5,"v":4},{"c":"F-R","t":1,"v":2.8},{"c":"F-R","t":1.5,"v":3.6},{"c":"F-R","t":2,"v":2.6},{"c":"F-R","t":2.5,"v":3.4},{"c":"F-R","t":3,"v":2.2},{"c":"F-R","t":3.5,"v":3.4},{"c":"F-R","t":4,"v":2.4},{"c":"F-R","t":4.5,"v":3.8},{"c":"F-R","t":5,"v":2.6},{"c":"F-R","t":5.5,"v":4.4},{"c":"F-R","t":6,"v":2.8},{"c":"F-R","t":6.5,"v":3.2},{"c":"F-R","t":7,"v":2.4},{"c":"F-R","t":7.5,"v":3.2},{"c":"F-R","t":8,"v":9},{"c":"F-R","t":8.2,"v":12},{"c":"F-R","t":8.5,"v":8},{"c":"F-R","t":9,"v":4.5},{"c":"F-R","t":9.5,"v":3.6},{"c":"F-R","t":10,"v":4.2},{"c":"F-R","t":10.5,"v":3},{"c":"F-R","t":11,"v":3.8},{"c":"F-R","t":11.5,"v":2.8},{"c":"F-R","t":12,"v":3.4},{"c":"F-R","t":12.5,"v":4.6},{"c":"F-R","t":13,"v":3.2},{"c":"F-R","t":13.5,"v":4},{"c":"F-R","t":14,"v":3},{"c":"F-R","t":14.5,"v":4.4},{"c":"F-R","t":15,"v":2.8},{"c":"F-R","t":15.5,"v":3.8},{"c":"F-R","t":16,"v":3.2},{"c":"F-R","t":16.5,"v":4.2},{"c":"F-R","t":17,"v":3},{"c":"F-R","t":17.5,"v":3.6},{"c":"F-R","t":18,"v":2.2},{"c":"F-R","t":18.5,"v":0.6},{"c":"F-R","t":19,"v":-0.3},{"c":"F-R","t":19.5,"v":1.2},{"c":"F-R","t":20,"v":3},{"c":"F-R","t":20.5,"v":1},{"c":"F-R","t":21,"v":2.8},{"c":"F-R","t":21.5,"v":3.4},{"c":"F-R","t":22,"v":3.8},{"c":"F-R","t":22.5,"v":3.6},{"c":"F-R","t":23,"v":4},{"c":"F-R","t":23.5,"v":4.2},{"c":"F-R","t":24,"v":4.6},{"c":"F-R","t":24.5,"v":5.6},{"c":"F-R","t":25,"v":4.2},{"c":"F-R","t":25.5,"v":4.6},{"c":"F-R","t":26,"v":3.6},{"c":"F-R","t":26.5,"v":3.2},{"c":"F-R","t":27,"v":3.8},{"c":"F-R","t":27.5,"v":3},{"c":"F-R","t":28,"v":3.6},{"c":"F-R","t":28.5,"v":3.2},{"c":"F-R","t":29,"v":4},{"c":"F-R","t":29.5,"v":3.6},{"c":"F-R","t":30,"v":4.4},{"c":"F-R","t":30.5,"v":4},{"c":"F-R","t":31,"v":4.6},{"c":"F-R","t":31.5,"v":4.2},{"c":"F-R","t":32,"v":4},
{"c":"F-L","t":0,"v":6.6},{"c":"F-L","t":0.5,"v":7.4},{"c":"F-L","t":1,"v":6.2},{"c":"F-L","t":1.5,"v":7},{"c":"F-L","t":2,"v":6},{"c":"F-L","t":2.5,"v":7.2},{"c":"F-L","t":3,"v":6.4},{"c":"F-L","t":3.5,"v":7.6},{"c":"F-L","t":4,"v":6.2},{"c":"F-L","t":4.5,"v":7},{"c":"F-L","t":5,"v":5.8},{"c":"F-L","t":5.5,"v":6.8},{"c":"F-L","t":6,"v":5.6},{"c":"F-L","t":6.5,"v":6.4},{"c":"F-L","t":7,"v":5.8},{"c":"F-L","t":7.5,"v":6.6},{"c":"F-L","t":8,"v":11},{"c":"F-L","t":8.2,"v":13.2},{"c":"F-L","t":8.5,"v":11},{"c":"F-L","t":9,"v":9},{"c":"F-L","t":9.5,"v":7.8},{"c":"F-L","t":10,"v":6.6},{"c":"F-L","t":10.5,"v":7.2},{"c":"F-L","t":11,"v":6.2},{"c":"F-L","t":11.5,"v":7.4},{"c":"F-L","t":12,"v":6.6},{"c":"F-L","t":12.5,"v":7},{"c":"F-L","t":13,"v":6.4},{"c":"F-L","t":13.5,"v":7.6},{"c":"F-L","t":14,"v":8},{"c":"F-L","t":14.5,"v":6},{"c":"F-L","t":15,"v":7.2},{"c":"F-L","t":15.5,"v":5.4},{"c":"F-L","t":16,"v":4.4},{"c":"F-L","t":16.5,"v":3.4},{"c":"F-L","t":17,"v":5},{"c":"F-L","t":17.5,"v":6.2},{"c":"F-L","t":18,"v":5.6},{"c":"F-L","t":18.5,"v":4.8},{"c":"F-L","t":19,"v":6.2},{"c":"F-L","t":19.5,"v":5.4},{"c":"F-L","t":20,"v":6},{"c":"F-L","t":20.5,"v":5.8},{"c":"F-L","t":21,"v":6.8},{"c":"F-L","t":21.5,"v":6.2},{"c":"F-L","t":22,"v":7},{"c":"F-L","t":22.5,"v":6.4},{"c":"F-L","t":23,"v":7.2},{"c":"F-L","t":23.5,"v":6.6},{"c":"F-L","t":24,"v":7.6},{"c":"F-L","t":24.5,"v":8.4},{"c":"F-L","t":25,"v":7},{"c":"F-L","t":25.5,"v":6.2},{"c":"F-L","t":26,"v":5.8},{"c":"F-L","t":26.5,"v":6.6},{"c":"F-L","t":27,"v":6},{"c":"F-L","t":27.5,"v":7},{"c":"F-L","t":28,"v":6.4},{"c":"F-L","t":28.5,"v":7.4},{"c":"F-L","t":29,"v":6.8},{"c":"F-L","t":29.5,"v":7.6},{"c":"F-L","t":30,"v":7.2},{"c":"F-L","t":30.5,"v":8},{"c":"F-L","t":31,"v":7.6},{"c":"F-L","t":31.5,"v":8.4},{"c":"F-L","t":32,"v":8},
{"c":"T-R","t":0,"v":8.2},{"c":"T-R","t":0.5,"v":9},{"c":"T-R","t":1,"v":7.8},{"c":"T-R","t":1.5,"v":8.6},{"c":"T-R","t":2,"v":7.6},{"c":"T-R","t":2.5,"v":8.8},{"c":"T-R","t":3,"v":7.8},{"c":"T-R","t":3.5,"v":8.4},{"c":"T-R","t":4,"v":7.2},{"c":"T-R","t":4.5,"v":8},{"c":"T-R","t":5,"v":6.8},{"c":"T-R","t":5.5,"v":7.6},{"c":"T-R","t":6,"v":6.6},{"c":"T-R","t":6.5,"v":7.4},{"c":"T-R","t":7,"v":7},{"c":"T-R","t":7.5,"v":8},{"c":"T-R","t":8,"v":9},{"c":"T-R","t":8.5,"v":10.8},{"c":"T-R","t":9,"v":9.6},{"c":"T-R","t":9.5,"v":9},{"c":"T-R","t":10,"v":8.4},{"c":"T-R","t":10.5,"v":9},{"c":"T-R","t":11,"v":8},{"c":"T-R","t":11.5,"v":8.8},{"c":"T-R","t":12,"v":7.8},{"c":"T-R","t":12.5,"v":8.6},{"c":"T-R","t":13,"v":7.6},{"c":"T-R","t":13.5,"v":8.8},{"c":"T-R","t":14,"v":9.2},{"c":"T-R","t":14.5,"v":8},{"c":"T-R","t":15,"v":8.6},{"c":"T-R","t":15.5,"v":7.2},{"c":"T-R","t":16,"v":5.8},{"c":"T-R","t":16.5,"v":4.6},{"c":"T-R","t":17,"v":6.6},{"c":"T-R","t":17.5,"v":7.8},{"c":"T-R","t":18,"v":7},{"c":"T-R","t":18.5,"v":8},{"c":"T-R","t":19,"v":6},{"c":"T-R","t":19.5,"v":3.8},{"c":"T-R","t":20,"v":6.6},{"c":"T-R","t":20.5,"v":7.4},{"c":"T-R","t":21,"v":8},{"c":"T-R","t":21.5,"v":7.2},{"c":"T-R","t":22,"v":8.2},{"c":"T-R","t":22.5,"v":7.6},{"c":"T-R","t":23,"v":8.6},{"c":"T-R","t":23.5,"v":8},{"c":"T-R","t":24,"v":9.2},{"c":"T-R","t":24.5,"v":10},{"c":"T-R","t":25,"v":8.6},{"c":"T-R","t":25.5,"v":8},{"c":"T-R","t":26,"v":7.2},{"c":"T-R","t":26.5,"v":7.8},{"c":"T-R","t":27,"v":7},{"c":"T-R","t":27.5,"v":8},{"c":"T-R","t":28,"v":7.4},{"c":"T-R","t":28.5,"v":8.4},{"c":"T-R","t":29,"v":7.8},{"c":"T-R","t":29.5,"v":8.6},{"c":"T-R","t":30,"v":8.2},{"c":"T-R","t":30.5,"v":9.2},{"c":"T-R","t":31,"v":8.4},{"c":"T-R","t":31.5,"v":8.8},{"c":"T-R","t":32,"v":8.6},
{"c":"T-L","t":0,"v":7.2},{"c":"T-L","t":0.5,"v":8},{"c":"T-L","t":1,"v":6.8},{"c":"T-L","t":1.5,"v":7.8},{"c":"T-L","t":2,"v":6.6},{"c":"T-L","t":2.5,"v":7.6},{"c":"T-L","t":3,"v":6.4},{"c":"T-L","t":3.5,"v":7.4},{"c":"T-L","t":4,"v":5.8},{"c":"T-L","t":4.5,"v":6.8},{"c":"T-L","t":5,"v":5.6},{"c":"T-L","t":5.5,"v":6.6},{"c":"T-L","t":6,"v":5.4},{"c":"T-L","t":6.5,"v":6.4},{"c":"T-L","t":7,"v":6},{"c":"T-L","t":7.5,"v":7},{"c":"T-L","t":8,"v":8.2},{"c":"T-L","t":8.5,"v":9.2},{"c":"T-L","t":9,"v":8.4},{"c":"T-L","t":9.5,"v":8.8},{"c":"T-L","t":10,"v":8},{"c":"T-L","t":10.5,"v":8.6},{"c":"T-L","t":11,"v":7.6},{"c":"T-L","t":11.5,"v":8.2},{"c":"T-L","t":12,"v":7.4},{"c":"T-L","t":12.5,"v":8},{"c":"T-L","t":13,"v":7},{"c":"T-L","t":13.5,"v":7.8},{"c":"T-L","t":14,"v":8.4},{"c":"T-L","t":14.5,"v":6.8},{"c":"T-L","t":15,"v":7.6},{"c":"T-L","t":15.5,"v":5.6},{"c":"T-L","t":16,"v":3.6},{"c":"T-L","t":16.5,"v":2.6},{"c":"T-L","t":17,"v":5.4},{"c":"T-L","t":17.5,"v":7},{"c":"T-L","t":18,"v":6},{"c":"T-L","t":18.5,"v":4.2},{"c":"T-L","t":19,"v":3.6},{"c":"T-L","t":19.5,"v":5.8},{"c":"T-L","t":20,"v":6.6},{"c":"T-L","t":20.5,"v":7.2},{"c":"T-L","t":21,"v":6.8},{"c":"T-L","t":21.5,"v":7.6},{"c":"T-L","t":22,"v":7},{"c":"T-L","t":22.5,"v":8},{"c":"T-L","t":23,"v":7.4},{"c":"T-L","t":23.5,"v":8.2},{"c":"T-L","t":24,"v":7.6},{"c":"T-L","t":24.5,"v":8.6},{"c":"T-L","t":25,"v":7.8},{"c":"T-L","t":25.5,"v":7.2},{"c":"T-L","t":26,"v":6.6},{"c":"T-L","t":26.5,"v":7.4},{"c":"T-L","t":27,"v":6.8},{"c":"T-L","t":27.5,"v":7.6},{"c":"T-L","t":28,"v":7},{"c":"T-L","t":28.5,"v":8},{"c":"T-L","t":29,"v":7.4},{"c":"T-L","t":29.5,"v":8.4},{"c":"T-L","t":30,"v":7.8},{"c":"T-L","t":30.5,"v":8.6},{"c":"T-L","t":31,"v":8},{"c":"T-L","t":31.5,"v":8.8},{"c":"T-L","t":32,"v":8.2},
{"c":"Eye1","t":0,"v":6.2},{"c":"Eye1","t":2.8,"v":4.6},{"c":"Eye1","t":3.8,"v":2.6},{"c":"Eye1","t":4.8,"v":5.9},{"c":"Eye1","t":5.8,"v":8.6},{"c":"Eye1","t":7.63,"v":7.9},{"c":"Eye1","t":8.3,"v":3.6},{"c":"Eye1","t":9.47,"v":0.2},{"c":"Eye1","t":9.8,"v":3.6},{"c":"Eye1","t":12.47,"v":3.6},{"c":"Eye1","t":13.47,"v":2.6},{"c":"Eye1","t":14.13,"v":5.9},{"c":"Eye1","t":14.3,"v":0.2},{"c":"Eye1","t":14.8,"v":-0.8},{"c":"Eye1","t":15.47,"v":5.9},{"c":"Eye1","t":15.8,"v":1.9},{"c":"Eye1","t":17.47,"v":3.6},{"c":"Eye1","t":18.13,"v":5.2},{"c":"Eye1","t":18.63,"v":-0.8},{"c":"Eye1","t":20.13,"v":-1.4},{"c":"Eye1","t":22.13,"v":2.6},{"c":"Eye1","t":24.8,"v":7.2},{"c":"Eye1","t":25.47,"v":7.9},{"c":"Eye1","t":25.8,"v":14.6},{"c":"Eye1","t":27.13,"v":14.6},{"c":"Eye1","t":28.8,"v":10.2},{"c":"Eye1","t":30.47,"v":5.9},{"c":"Eye1","t":30.8,"v":3.6},{"c":"Eye1","t":31.97,"v":3.6},
{"c":"Eye2","t":0,"v":1.5},{"c":"Eye2","t":2.8,"v":0.9},{"c":"Eye2","t":4.8,"v":-1.1},{"c":"Eye2","t":6.8,"v":-3.8},{"c":"Eye2","t":7.8,"v":-4.5},{"c":"Eye2","t":8.13,"v":-1.1},{"c":"Eye2","t":8.47,"v":-4.5},{"c":"Eye2","t":9.13,"v":-3.5},{"c":"Eye2","t":9.47,"v":1.5},{"c":"Eye2","t":11.47,"v":0.9},{"c":"Eye2","t":13.13,"v":3.9},{"c":"Eye2","t":14.3,"v":4.9},{"c":"Eye2","t":14.47,"v":-0.1},{"c":"Eye2","t":14.8,"v":3.2},{"c":"Eye2","t":15.47,"v":-1.1},{"c":"Eye2","t":15.97,"v":4.2},{"c":"Eye2","t":16.13,"v":4.9},{"c":"Eye2","t":17.8,"v":3.2},{"c":"Eye2","t":18.47,"v":8.9},{"c":"Eye2","t":18.8,"v":6.5},{"c":"Eye2","t":19.63,"v":5.5},{"c":"Eye2","t":20.47,"v":8.9},{"c":"Eye2","t":22.13,"v":4.9},{"c":"Eye2","t":24.8,"v":1.5},{"c":"Eye2","t":25.63,"v":-5.1},{"c":"Eye2","t":26.13,"v":-7.8},{"c":"Eye2","t":27.13,"v":-6.8},{"c":"Eye2","t":30.8,"v":-0.1},{"c":"Eye2","t":31.97,"v":0.9},
{"c":"EMG","t":0,"v":-2},{"c":"EMG","t":32.6,"v":-2},
{"c":"Pneumatogram","t":0,"v":0},{"c":"Pneumatogram","t":0.8,"v":1.5},{"c":"Pneumatogram","t":1.85,"v":-1},{"c":"Pneumatogram","t":2.9,"v":1.5},{"c":"Pneumatogram","t":3.95,"v":-1},{"c":"Pneumatogram","t":5,"v":1.5},{"c":"Pneumatogram","t":6.05,"v":-1},{"c":"Pneumatogram","t":7.1,"v":1.5},{"c":"Pneumatogram","t":8.15,"v":-1},{"c":"Pneumatogram","t":9.2,"v":1.5},{"c":"Pneumatogram","t":10.25,"v":-1},{"c":"Pneumatogram","t":11.3,"v":1.5},{"c":"Pneumatogram","t":12.35,"v":-1},{"c":"Pneumatogram","t":13.4,"v":1.5},{"c":"Pneumatogram","t":14.45,"v":-1},{"c":"Pneumatogram","t":15.5,"v":1.5},{"c":"Pneumatogram","t":16.55,"v":-1},{"c":"Pneumatogram","t":17.6,"v":1.5},{"c":"Pneumatogram","t":18.65,"v":-1},{"c":"Pneumatogram","t":19.7,"v":1.5},{"c":"Pneumatogram","t":20.75,"v":-1},{"c":"Pneumatogram","t":21.8,"v":1.5},{"c":"Pneumatogram","t":22.85,"v":-1},{"c":"Pneumatogram","t":23.9,"v":1.5},{"c":"Pneumatogram","t":24.95,"v":-1},{"c":"Pneumatogram","t":26,"v":1.5},{"c":"Pneumatogram","t":27.05,"v":-1},{"c":"Pneumatogram","t":28.1,"v":1.5},{"c":"Pneumatogram","t":29.15,"v":-1},{"c":"Pneumatogram","t":30.2,"v":1.5},{"c":"Pneumatogram","t":31.25,"v":-1},{"c":"Pneumatogram","t":32.3,"v":0.5},
{"c":"Ph1","t":0,"v":4.8},{"c":"Ph1","t":32.6,"v":4.8},
{"c":"Ph2","t":0,"v":4.1},{"c":"Ph2","t":32.6,"v":4.1},
{"c":"Ph3","t":0,"v":1.3},{"c":"Ph3","t":32.6,"v":1.3},
{"c":"Ph4","t":0,"v":0.5},{"c":"Ph4","t":32.6,"v":0.5},
{"c":"ECG","t":0,"v":-1},
{"c":"ECG","t":0.6,"v":2.2},{"c":"ECG","t":0.72,"v":-0.2},{"c":"ECG","t":1.1,"v":0.6},{"c":"ECG","t":1.55,"v":-1.3},
{"c":"ECG","t":1.87,"v":2.2},{"c":"ECG","t":1.99,"v":-0.2},{"c":"ECG","t":2.37,"v":0.6},{"c":"ECG","t":2.82,"v":-1.3},
{"c":"ECG","t":3.14,"v":2.2},{"c":"ECG","t":3.26,"v":-0.2},{"c":"ECG","t":3.64,"v":0.6},{"c":"ECG","t":4.09,"v":-1.3},
{"c":"ECG","t":4.41,"v":2.2},{"c":"ECG","t":4.53,"v":-0.2},{"c":"ECG","t":4.91,"v":0.6},{"c":"ECG","t":5.36,"v":-1.3},
{"c":"ECG","t":5.68,"v":2.2},{"c":"ECG","t":5.8,"v":-0.2},{"c":"ECG","t":6.18,"v":0.6},{"c":"ECG","t":6.63,"v":-1.3},
{"c":"ECG","t":6.95,"v":2.2},{"c":"ECG","t":7.07,"v":-0.2},{"c":"ECG","t":7.45,"v":0.6},{"c":"ECG","t":7.9,"v":-1.3},
{"c":"ECG","t":8.22,"v":2.2},{"c":"ECG","t":8.34,"v":-0.2},{"c":"ECG","t":8.72,"v":0.6},{"c":"ECG","t":9.17,"v":-1.3},
{"c":"ECG","t":9.49,"v":2.2},{"c":"ECG","t":9.61,"v":-0.2},{"c":"ECG","t":9.99,"v":0.6},{"c":"ECG","t":10.44,"v":-1.3},
{"c":"ECG","t":10.76,"v":2.2},{"c":"ECG","t":10.88,"v":-0.2},{"c":"ECG","t":11.26,"v":0.6},{"c":"ECG","t":11.71,"v":-1.3},
{"c":"ECG","t":12.03,"v":2.2},{"c":"ECG","t":12.15,"v":-0.2},{"c":"ECG","t":12.53,"v":0.6},{"c":"ECG","t":12.98,"v":-1.3},
{"c":"ECG","t":13.3,"v":2.2},{"c":"ECG","t":13.42,"v":-0.2},{"c":"ECG","t":13.8,"v":0.6},{"c":"ECG","t":14.25,"v":-1.3},
{"c":"ECG","t":14.57,"v":2.2},{"c":"ECG","t":14.69,"v":-0.2},{"c":"ECG","t":15.07,"v":0.6},{"c":"ECG","t":15.52,"v":-1.3},
{"c":"ECG","t":15.84,"v":2.2},{"c":"ECG","t":15.96,"v":-0.2},{"c":"ECG","t":16.34,"v":0.6},{"c":"ECG","t":16.79,"v":-1.3},
{"c":"ECG","t":17.11,"v":2.2},{"c":"ECG","t":17.23,"v":-0.2},{"c":"ECG","t":17.61,"v":0.6},{"c":"ECG","t":18.06,"v":-1.3},
{"c":"ECG","t":18.38,"v":2.2},{"c":"ECG","t":18.5,"v":-0.2},{"c":"ECG","t":18.88,"v":0.6},{"c":"ECG","t":19.33,"v":-1.3},
{"c":"ECG","t":19.65,"v":2.2},{"c":"ECG","t":19.77,"v":-0.2},{"c":"ECG","t":20.15,"v":0.6},{"c":"ECG","t":20.6,"v":-1.3},
{"c":"ECG","t":20.92,"v":2.2},{"c":"ECG","t":21.04,"v":-0.2},{"c":"ECG","t":21.42,"v":0.6},{"c":"ECG","t":21.87,"v":-1.3},
{"c":"ECG","t":22.19,"v":2.2},{"c":"ECG","t":22.31,"v":-0.2},{"c":"ECG","t":22.69,"v":0.6},{"c":"ECG","t":23.14,"v":-1.3},
{"c":"ECG","t":23.46,"v":2.2},{"c":"ECG","t":23.58,"v":-0.2},{"c":"ECG","t":23.96,"v":0.6},{"c":"ECG","t":24.41,"v":-1.3},
{"c":"ECG","t":24.73,"v":2.2},{"c":"ECG","t":24.85,"v":-0.2},{"c":"ECG","t":25.23,"v":0.6},{"c":"ECG","t":25.68,"v":-1.3},
{"c":"ECG","t":26,"v":2.2},{"c":"ECG","t":26.12,"v":-0.2},{"c":"ECG","t":26.5,"v":0.6},{"c":"ECG","t":26.95,"v":-1.3},
{"c":"ECG","t":27.27,"v":2.2},{"c":"ECG","t":27.39,"v":-0.2},{"c":"ECG","t":27.77,"v":0.6},{"c":"ECG","t":28.22,"v":-1.3},
{"c":"ECG","t":28.54,"v":2.2},{"c":"ECG","t":28.66,"v":-0.2},{"c":"ECG","t":29.04,"v":0.6},{"c":"ECG","t":29.49,"v":-1.3},
{"c":"ECG","t":29.81,"v":2.2},{"c":"ECG","t":29.93,"v":-0.2},{"c":"ECG","t":30.31,"v":0.6},{"c":"ECG","t":30.76,"v":-1.3},
{"c":"ECG","t":31.08,"v":2.2},{"c":"ECG","t":31.2,"v":-0.2},{"c":"ECG","t":31.58,"v":0.6},{"c":"ECG","t":32.2,"v":-1}
]
},
"hconcat":[
{
"width":95,"height":471,
"layer":[
{"data":{"name":"brackets"},"transform":[{"filter":"datum.part == 'line'"}],
 "mark":{"type":"rule","color":"#1a1a1a","strokeWidth":1.4},
 "encoding":{
  "x":{"field":"from","type":"nominal","axis":null,"scale":{"type":"point","domain":["group","eegBar","phBar","eyeBar","eegEnd","gap","label"],"range":[16,121],"padding":0}},
  "x2":{"field":"to"},
  "y":{"field":"top","type":"nominal","axis":null,"scale":{"type":"band","domain":["F-R","F-L","T-R","T-L","Eye1","Eye2","EMG","Pneumatogram","Ph1","Ph2","Ph3","Ph4","ECG"],"paddingInner":0,"paddingOuter":0}},
  "y2":{"field":"bottom"}}},
{"data":{"name":"brackets"},"transform":[{"filter":"datum.part == 'tickDown'"}],
 "mark":{"type":"rule","color":"#1a1a1a","strokeWidth":1.4,"y2Offset":6},
 "encoding":{"x":{"field":"from","type":"nominal"},"x2":{"field":"to"},"y":{"field":"top","type":"nominal"},"y2":{"field":"bottom"}}},
{"data":{"name":"brackets"},"transform":[{"filter":"datum.part == 'tickUp'"}],
 "mark":{"type":"rule","color":"#1a1a1a","strokeWidth":1.4,"yOffset":-7},
 "encoding":{"x":{"field":"from","type":"nominal"},"x2":{"field":"to"},"y":{"field":"top","type":"nominal"},"y2":{"field":"bottom"}}},
{"data":{"name":"labels"},"transform":[{"filter":"indexof(['F-R','F-L','T-R','T-L','EMG','ECG'], datum.text) >= 0"}],
 "mark":{"type":"text","align":"right","baseline":"middle","font":"DejaVu Sans","fontWeight":"bold","fontSize":15,"color":"#1a1a1a"},
 "encoding":{"x":{"field":"anchor","type":"nominal"},"y":{"field":"channel","type":"nominal"},"text":{"field":"text"}}},
{"data":{"name":"labels"},"transform":[{"filter":"datum.text == 'Pneumatogram'"}],
 "mark":{"type":"text","align":"right","baseline":"middle","font":"DejaVu Sans","fontSize":13.5,"color":"#1a1a1a"},
 "encoding":{"x":{"field":"anchor","type":"nominal"},"y":{"field":"channel","type":"nominal"},"text":{"field":"text"}}},
{"data":{"name":"labels"},"transform":[{"filter":"datum.text == 'Eye Movement'"}],
 "mark":{"type":"text","align":"right","baseline":"middle","font":"DejaVu Sans","fontSize":14,"color":"#1a1a1a","dy":20},
 "encoding":{"x":{"field":"anchor","type":"nominal"},"y":{"field":"channel","type":"nominal"},"text":{"field":"text"}}},
{"data":{"name":"labels"},"transform":[{"filter":"datum.text == 'EEG'"}],
 "mark":{"type":"text","align":"left","baseline":"middle","font":"DejaVu Sans","fontWeight":"bold","fontSize":15,"color":"#1a1a1a","dy":16},
 "encoding":{"x":{"field":"anchor","type":"nominal"},"y":{"field":"channel","type":"nominal"},"text":{"field":"text"}}},
{"data":{"name":"labels"},"transform":[{"filter":"datum.text == 'Phallogram'"}],
 "mark":{"type":"text","align":"left","baseline":"middle","font":"DejaVu Sans","fontSize":14,"color":"#1a1a1a","dy":25},
 "encoding":{"x":{"field":"anchor","type":"nominal"},"y":{"field":"channel","type":"nominal"},"text":{"field":"text"}}}
]
},
{
"width":322,"height":471,
"title":{"text":"機能的インポテンス","dx":-8},
"data":{"name":"functional"},
"encoding":{
 "x":{"field":"t","type":"quantitative","axis":null,"scale":{"domain":[0,32.2],"nice":false,"zero":false}},
 "y":{"field":"c","type":"nominal","axis":null,"scale":{"type":"band","domain":["F-R","F-L","T-R","T-L","Eye1","Eye2","EMG","Pneumatogram","Ph1","Ph2","Ph3","Ph4","ECG"],"paddingInner":0,"paddingOuter":0}},
 "yOffset":{"field":"v","type":"quantitative","scale":{"domain":[18,-18],"nice":false,"zero":false}},
 "detail":{"field":"c"},
 "order":{"field":"t","type":"quantitative"},
 "strokeWidth":{"field":"c","type":"nominal","legend":null,"scale":{"domain":["F-R","F-L","T-R","T-L","Eye1","Eye2","EMG","Pneumatogram","Ph1","Ph2","Ph3","Ph4","ECG"],"range":[1.7,1.7,1.7,1.7,1.1,1.1,1.1,1.1,1.5,1.5,1.5,1.5,1.3]}}
},
"layer":[
 {"transform":[{"filter":"indexof(['Pneumatogram','Ph1','Ph2','Ph3','Ph4'], datum.c) < 0"}],"mark":{"type":"line","color":"#1a1a1a","strokeJoin":"round"}},
 {"transform":[{"filter":"indexof(['Pneumatogram','Ph1','Ph2','Ph3','Ph4'], datum.c) >= 0"}],"mark":{"type":"line","color":"#1a1a1a","interpolate":"monotone","strokeJoin":"round"}}
]
},
{
"width":326,"height":471,
"title":{"text":"器質的インポテンス","dx":-30},
"data":{"name":"organic"},
"encoding":{
 "x":{"field":"t","type":"quantitative","axis":null,"scale":{"domain":[0,32.6],"nice":false,"zero":false}},
 "y":{"field":"c","type":"nominal","axis":null,"scale":{"type":"band","domain":["F-R","F-L","T-R","T-L","Eye1","Eye2","EMG","Pneumatogram","Ph1","Ph2","Ph3","Ph4","ECG"],"paddingInner":0,"paddingOuter":0}},
 "yOffset":{"field":"v","type":"quantitative","scale":{"domain":[18,-18],"nice":false,"zero":false}},
 "detail":{"field":"c"},
 "order":{"field":"t","type":"quantitative"},
 "strokeWidth":{"field":"c","type":"nominal","legend":null,"scale":{"domain":["F-R","F-L","T-R","T-L","Eye1","Eye2","EMG","Pneumatogram","Ph1","Ph2","Ph3","Ph4","ECG"],"range":[1.7,1.7,1.7,1.7,1.1,1.1,1.1,1.1,1.5,1.5,1.5,1.5,1.3]}}
},
"layer":[
 {"transform":[{"filter":"indexof(['Pneumatogram','Ph1','Ph2','Ph3','Ph4'], datum.c) < 0"}],"mark":{"type":"line","color":"#1a1a1a","strokeJoin":"round"}},
 {"transform":[{"filter":"indexof(['Pneumatogram','Ph1','Ph2','Ph3','Ph4'], datum.c) >= 0"}],"mark":{"type":"line","color":"#1a1a1a","interpolate":"monotone","strokeJoin":"round"}}
]
}
]
}
